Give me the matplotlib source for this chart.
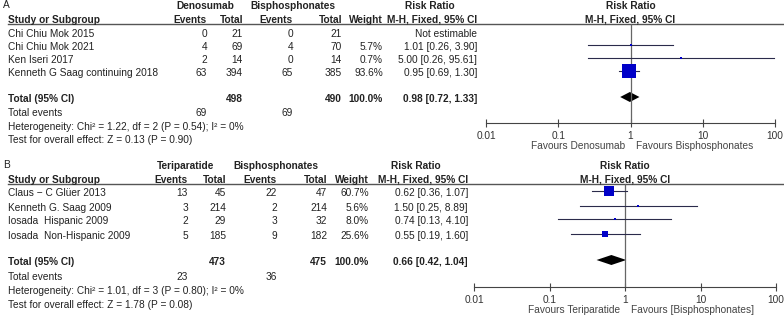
import numpy as np
import matplotlib.pyplot as plt

plt.rcParams['font.family'] = ['Liberation Sans', 'DejaVu Sans']

# ---------------- donnees panneau A ----------------
a_studies = ['Chi Chiu Mok 2015', 'Chi Chiu Mok 2021', 'Ken Iseri 2017',
             'Kenneth G Saag continuing 2018']
a_ev1 = [0, 4, 2, 63]
a_tot1 = [21, 69, 14, 394]
a_ev2 = [0, 4, 0, 65]
a_tot2 = [21, 70, 14, 385]
a_weight = [None, 5.7, 0.7, 93.6]
a_rr = [None, 1.01, 5.00, 0.95]
a_lo = [None, 0.26, 0.26, 0.69]
a_hi = [None, 3.90, 95.61, 1.30]
a_total = (498, 490, 69, 69)
a_pooled = (0.98, 0.72, 1.33)
a_het = 'Heterogeneity: Chi\u00b2 = 1.22, df = 2 (P = 0.54); I\u00b2 = 0%'
a_test = 'Test for overall effect: Z = 0.13 (P = 0.90)'

# ---------------- donnees panneau B ----------------
b_studies = ['Claus \u2212 C Gl\u00fcer 2013', 'Kenneth G. Saag 2009',
             'Iosada  Hispanic 2009', 'Iosada  Non-Hispanic 2009']
b_ev1 = [13, 3, 2, 5]
b_tot1 = [45, 214, 29, 185]
b_ev2 = [22, 2, 3, 9]
b_tot2 = [47, 214, 32, 182]
b_weight = [60.7, 5.6, 8.0, 25.6]
b_rr = [0.62, 1.50, 0.74, 0.55]
b_lo = [0.36, 0.25, 0.13, 0.19]
b_hi = [1.07, 8.89, 4.10, 1.60]
b_total = (473, 475, 23, 36)
b_pooled = (0.66, 0.42, 1.04)
b_het = 'Heterogeneity: Chi\u00b2 = 1.01, df = 3 (P = 0.80); I\u00b2 = 0%'
b_test = 'Test for overall effect: Z = 1.78 (P = 0.08)'

ticks = [0.01, 0.1, 1, 10, 100]
tick_labels = ['0.01', '0.1', '1', '10', '100']

FS = 7.3
TXT = '#222222'
fig = plt.figure(figsize=(7.84, 3.16), dpi=100)
bg = fig.add_axes([0, 0, 1, 1])
bg.set_xlim(0, 784)
bg.set_ylim(316, 0)
bg.axis('off')


def t(x, y, s, ha='left', bold=False, color=TXT):
    bg.text(x, y, s, ha=ha, va='center', fontsize=FS, color=color,
            fontweight='bold' if bold else 'normal')


def fmt_ci(r, lo, hi):
    return f'{r:.2f} [{lo:.2f}, {hi:.2f}]'


###############################################################################
def panel(letter, y0, grp1, grp2, studies, ev1, tot1, ev2, tot2, weight,
          rr, lo, hi, total, pooled, het, test, fav1, fav2, cols, fx,
          ax_bottom, rows, foot):
    c_ev1, c_tot1, c_ev2, c_tot2, c_w, c_rr, c_g1, c_g2, c_rrh = cols
    y_head = y0 - 14
    t(3, y_head - 1, letter)
    t(c_g1, y_head, grp1, ha='center', bold=True)
    t(c_g2, y_head, grp2, ha='center', bold=True)
    t(c_rrh, y_head, 'Risk Ratio', ha='center', bold=True)
    t(8, y0, 'Study or Subgroup', bold=True)
    t(c_ev1, y0, 'Events', ha='right', bold=True)
    t(c_tot1, y0, 'Total', ha='right', bold=True)
    t(c_ev2, y0, 'Events', ha='right', bold=True)
    t(c_tot2, y0, 'Total', ha='right', bold=True)
    t(c_w, y0, 'Weight', ha='right', bold=True)
    t(c_rr, y0, 'M-H, Fixed, 95% CI', ha='right', bold=True)
    bg.plot([8, 784], [y0 + 4, y0 + 4], color='#555555', lw=1)

    for i, s in enumerate(studies):
        y = rows[i]
        t(8, y, s)
        t(c_ev1, y, str(ev1[i]), ha='right')
        t(c_tot1, y, str(tot1[i]), ha='right')
        t(c_ev2, y, str(ev2[i]), ha='right')
        t(c_tot2, y, str(tot2[i]), ha='right')
        if weight[i] is not None:
            t(c_w, y, f'{weight[i]:.1f}%', ha='right')
            t(c_rr, y, fmt_ci(rr[i], lo[i], hi[i]), ha='right')
        else:
            t(c_rr, y, 'Not estimable', ha='right')

    y_tot, y_ev, y_het, y_test = foot
    t(8, y_tot, 'Total (95% CI)', bold=True)
    t(c_tot1, y_tot, str(total[0]), ha='right', bold=True)
    t(c_tot2, y_tot, str(total[1]), ha='right', bold=True)
    t(c_w, y_tot, '100.0%', ha='right', bold=True)
    t(c_rr, y_tot, fmt_ci(*pooled), ha='right', bold=True)
    t(8, y_ev, 'Total events')
    t(c_ev1, y_ev, str(total[2]), ha='right')
    t(c_ev2, y_ev, str(total[3]), ha='right')
    t(8, y_het, het)
    t(8, y_test, test)

    # forest plot : axe log dont l'unite verticale est le pixel
    x0, x1 = fx
    top = y0 + 4
    ax = fig.add_axes([x0 / 784, 1 - ax_bottom / 316, (x1 - x0) / 784,
                       (ax_bottom - top) / 316])
    ax.set_xscale('log')
    ax.set_xlim(0.01, 100)
    ax.set_ylim(ax_bottom, top)
    ax.patch.set_alpha(0)
    for sp in ['top', 'left', 'right']:
        ax.spines[sp].set_visible(False)
    ax.spines['bottom'].set_color('#444444')
    ax.spines['bottom'].set_linewidth(0.8)
    ax.set_yticks([])
    ax.set_xticks(ticks)
    ax.set_xticklabels(tick_labels)
    ax.minorticks_off()
    ax.tick_params(axis='x', direction='inout', length=6, width=0.8,
                   color='#444444', labelsize=FS, labelcolor='#333333', pad=3)
    ax.axvline(1, color='#666666', lw=0.9)

    for i in range(len(studies)):
        if rr[i] is None:
            continue
        y = rows[i] - 2
        ax.plot([lo[i], hi[i]], [y, y], color='#2b2b4b', lw=0.8, clip_on=False)
        side = max(2.2, 14 * (weight[i] / 93.6) ** 0.75)
        ax.plot([rr[i]], [y], marker='s', ms=side * 0.72, color='#0000c8',
                mec='#0000c8', mew=0, clip_on=False)

    r, l, h = pooled
    yd = y_tot - 2
    ax.fill([l, r, h, r], [yd, yd - 5, yd, yd + 5], color='black', lw=0)

    xc = x0 + (x1 - x0) / 2
    t(xc, y_head, 'Risk Ratio', ha='center', bold=True)
    t(xc, y0, 'M-H, Fixed, 95% CI', ha='center', bold=True)
    t(xc - 5, ax_bottom + 23, fav1, ha='right', color='#444444')
    t(xc + 6, ax_bottom + 23, fav2, color='#444444')


panel('A', 20, 'Denosumab', 'Bisphosphonates', a_studies, a_ev1, a_tot1,
      a_ev2, a_tot2, a_weight, a_rr, a_lo, a_hi, a_total, a_pooled, a_het,
      a_test, 'Favours Denosumab', 'Favours Bisphosphonates',
      (207, 243, 293, 342, 383, 477, 205, 293, 430), (486, 775), 123,
      [34, 47, 60, 73], (99, 113, 127, 140))
panel('B', 180, 'Teriparatide', 'Bisphosphonates', b_studies, b_ev1, b_tot1,
      b_ev2, b_tot2, b_weight, b_rr, b_lo, b_hi, b_total, b_pooled, b_het,
      b_test, 'Favours Teriparatide', 'Favours [Bisphosphonates]',
      (188, 226, 277, 327, 369, 468, 186, 276, 416), (474, 776), 287,
      [193, 208, 221, 236], (262, 277, 291, 305))

fig.savefig('out.png', dpi=100)
